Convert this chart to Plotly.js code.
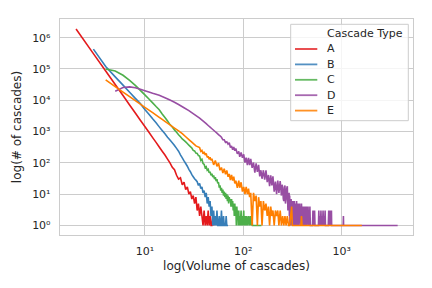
<!DOCTYPE html>
<html>
<head>
<meta charset="utf-8">
<script src="https://cdn.plot.ly/plotly-3.0.1.min.js"></script>
<style>html,body{margin:0;padding:0;background:#fff;}#chart{width:432px;height:288px;}</style>
</head>
<body>
<div id="chart"></div>
<script>
// ---------- data ----------
const categories = ['A', 'B', 'C', 'D', 'E'];
const legendTitle = 'Cascade Type';
const xTitle = 'log(Volume of cascades)';
const yTitle = 'log(# of cascades)';

const xTickVals = [10, 100, 1000];
const xTickText = ['10\u00b9', '10\u00b2', '10\u00b3'];
const yTickVals = [1, 10, 100, 1000, 10000, 100000, 1000000];
const yTickText = ['10\u2070', '10\u00b9', '10\u00b2', '10\u00b3', '10\u2074', '10\u2075', '10\u2076'];

const xA = [2,3,4,5,6,7,8,9,10,11,12,13,14,15,16,17,18,19,20,21,22,23,24,25,26,27,28,29,30,31,32,33,34,35,36,37,38,39,40,41,42,43,44,45,46,47,48,49,50];
const yA = [1900000,310000,86000,32000,14200,7100,3900,2300,1450,950,640,450,320,235,178,132,100,72,60,40,30,33,20,24,14,17,10,12,7,9,5,8,3,5,2,4,2,1,3,1,2,1,3,1,2,1,1,2,1];

const xB = [3,4,5,6,7,8,9,10,11,12,13,14,15,16,17,18,19,20,21,22,23,24,25,26,27,28,29,30,31,32,33,34,35,36,37,38,39,40,41,42,43,44,45,46,47,48,49,50,51,52,53,54,55,56,57,58,59,60,61,62,63,64,66,67,68,70];
const yB = [430000,120000,56000,30500,18100,11500,7800,5100,3600,2550,1900,1410,1080,845,660,537,440,360,290,235,180,145,115,95,78,62,52,42,36,31,28,25,19,22,15,17,11,13,8,11,5,8,4,6,2,4,1,3,1,2,1,3,1,1,2,1,1,3,1,1,2,1,1,2,1,1];

const xC = [4,5,6,7,8,9,10,11,12,13,14,15,16,17,18,19,20,21,22,23,24,25,26,27,28,29,30,31,32,33,34,35,36,37,38,39,40,41,42,43,44,45,46,47,48,49,50,51,52,53,54,55,56,57,58,59,60,61,62,63,64,65,66,67,68,69,70,71,72,73,74,75,76,77,78,79,80,81,82,83,84,85,86,87,88,89,90,91,92,93,95,96,98,99,101,102,104,106,108,110,113,115,118,120,122,124,130,140,153];
const yC = [100000,86000,63000,43500,30000,20700,14800,11000,8250,6300,5000,3660,2830,2190,1670,1390,1120,944,795,680,580,521,469,417,366,331,298,250,240,205,200,170,165,120,130,95,90,70,75,58,62,48,52,40,45,35,40,30,35,26,30,22,24,16,19,13,16,11,14,9,12,8,11,7,10,6,9,5,8,6,7,4,7,4,6,3,5,2,5,2,4,1,4,2,3,1,3,1,2,1,3,1,2,1,3,1,2,1,2,1,2,1,2,1,2,1,1,1,1];

const xD = [5,6,7,8,9,10,11,12,14,16,18,20,22,25,28,32,36,40,42,44,46,48,50,52,54,56,58,60,62,64,66,68,70,72,74,76,78,80,82,84,87,90,92,95,98,101,104,107,110,113,116,119,123,127,131,135,139,143,147,151,155,160,165,170,175,180,185,190,195,200,206,212,218,224,230,237,244,248,251,255,258,262,265,268,272,276,280,284,288,292,294,296,298,300,303,306,309,312,315,318,321,324,327,330,333,336,339,342,345,348,351,354,357,360,363,366,370,374,378,382,386,390,394,398,402,406,410,414,418,422,426,430,434,438,442,446,450,455,460,465,470,475,480,505,510,515,520,525,530,535,580,585,592,600,608,615,622,630,638,646,654,662,670,678,683,730,738,746,754,762,770,778,786,790,1035,1040,1045,3700];
const yD = [19500,25500,26800,25000,22400,20100,18300,16700,14400,12000,10200,8650,7300,5780,4660,3470,2680,2030,1780,1560,1380,1230,1100,986,889,804,733,655,545,546,450,472,396,440,308,347,262,319,243,287,193,234,155,216,146,187,102,146,85,143,84,133,69,102,49,97,51,86,37,58,31,58,29,58,24,41,18,40,19,37,12,25,10,27,11,26,9,20,17,7,6,16,19,5,7,15,18,3,5,11,2,9,1,6,1,7,2,5,1,6,2,5,1,6,2,5,1,5,2,6,1,4,2,5,1,4,2,5,1,4,1,5,2,4,1,4,1,4,2,4,1,3,1,4,1,3,2,4,1,3,1,4,1,1,3,1,3,1,3,1,1,3,1,2,1,3,1,2,1,3,1,2,1,3,1,1,3,1,3,1,3,1,3,1,1,2,1,1];

const xE = [4,5,6,7,8,9,10,12,14,15,16,18,20,22,24,26,28,30,33,36,37,38,39,40,41,42,43,44,45,46,47,48,50,52,54,56,58,60,62,64,66,68,70,72,74,76,78,80,82,84,87,90,92,95,98,101,104,107,110,113,116,119,123,127,131,135,139,143,147,151,155,160,165,170,175,180,185,190,195,200,206,212,218,224,230,237,244,251,258,265,272,280,288,296,310,315,385,390,395,1600];
const yE = [44700,27200,18300,13000,9700,7500,5950,4000,2840,2440,2120,1630,1290,1050,855,682,554,456,348,306,232,251,194,224,178,198,149,162,129,150,120,136,86,119,77,99,58,71,47,65,43,57,36,44,28,41,27,36,22,27,16,27,16,24,12,17,10,17,10,15,8,11,1,11,6,9,1,8,4,6,1,6,3,5,2,4,1,4,2,3,1,3,2,3,1,3,1,2,1,2,1,2,1,1,4,1,1,2,1,1];

// ---------- styles ----------
const colors = ['#e41a1c', '#377eb8', '#4daf4a', '#984ea3', '#ff7f00'];
const seriesX = [xA, xB, xC, xD, xE];
const seriesY = [yA, yB, yC, yD, yE];
const textColor = '#262626';
const gridColor = '#cccccc';
const fontFamily = 'DejaVu Sans, sans-serif';

const traces = categories.map((name, i) => ({
  type: 'scatter', mode: 'lines', name: name,
  x: seriesX[i], y: seriesY[i],
  line: {color: colors[i], width: 1.6, simplify: false},
  hoverinfo: 'skip'
}));

// plot area in pixels: left 60, right 413, top 19, bottom 235
const L = 60, R = 413, T = 19, B = 235;
const px = v => (v - L) / (R - L);
const py = v => (B - v) / (B - T);

const shapes = [{
  type: 'rect', xref: 'paper', yref: 'paper', layer: 'above',
  x0: px(290.7), x1: px(408.3), y0: py(120.7), y1: py(24.3),
  fillcolor: 'rgba(255,255,255,0.8)', line: {color: gridColor, width: 1}
}];
const annotations = [{
  xref: 'paper', yref: 'paper', x: px(325), y: py(33.5), xanchor: 'left', yanchor: 'middle',
  text: legendTitle, showarrow: false, font: {family: fontFamily, size: 11, color: textColor}
}];
categories.forEach((name, i) => {
  const yy = 49 + 15.4 * i;
  shapes.push({
    type: 'line', xref: 'paper', yref: 'paper', layer: 'above',
    x0: px(295), x1: px(317.3), y0: py(yy), y1: py(yy),
    line: {color: colors[i], width: 1.8}, opacity: 0.85
  });
  annotations.push({
    xref: 'paper', yref: 'paper', x: px(325), y: py(yy), xanchor: 'left', yanchor: 'middle',
    text: name, showarrow: false, font: {family: fontFamily, size: 11, color: textColor}
  });
});

const axisCommon = {
  type: 'log', showgrid: true, gridcolor: gridColor, gridwidth: 1,
  showline: true, linecolor: gridColor, linewidth: 1.25, mirror: true,
  zeroline: false, ticks: '', tickmode: 'array', automargin: false,
  tickfont: {family: fontFamily, size: 11, color: textColor}
};

const layout = {
  width: 432, height: 288,
  margin: {l: L, r: 432 - R, t: T, b: 288 - B},
  paper_bgcolor: '#ffffff', plot_bgcolor: '#ffffff',
  font: {family: fontFamily, size: 11, color: textColor},
  showlegend: false,
  xaxis: Object.assign({}, axisCommon, {
    range: [0.138, 3.724], tickvals: xTickVals, ticktext: xTickText,
    ticklabelstandoff: 6,
    title: {text: xTitle, font: {family: fontFamily, size: 12, color: textColor}, standoff: 4}
  }),
  yaxis: Object.assign({}, axisCommon, {
    range: [-0.306, 6.597], tickvals: yTickVals, ticktext: yTickText,
    ticklabelstandoff: 6,
    title: {text: yTitle, font: {family: fontFamily, size: 12, color: textColor}, standoff: 8}
  }),
  shapes: shapes,
  annotations: annotations
};

Plotly.newPlot('chart', traces, layout, {staticPlot: true, displayModeBar: false});
</script>
</body>
</html>
